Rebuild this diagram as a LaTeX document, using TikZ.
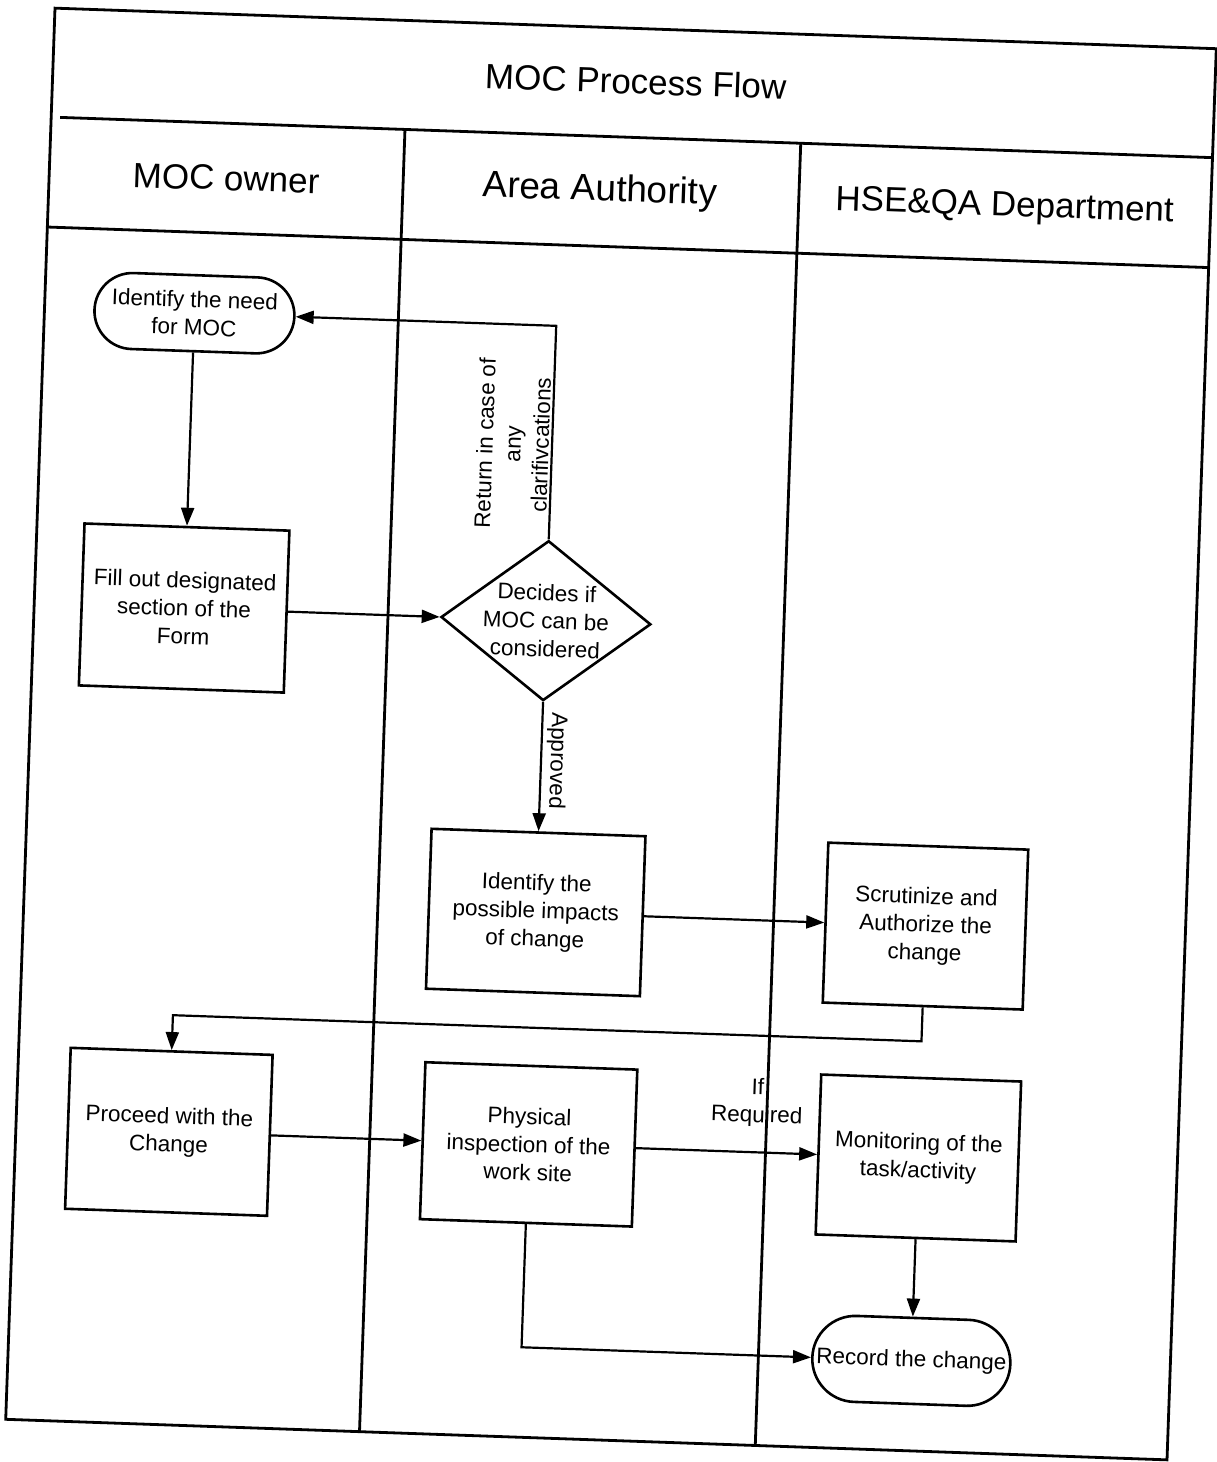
\documentclass[tikz,border=0pt]{standalone}
\usepackage{fontspec}
\setmainfont{Liberation Sans}
\usetikzlibrary{arrows.meta,shapes.geometric}
\newcommand\mybxfont{\fontsize{22.5bp}{28bp}\selectfont}
\newcommand\myhdfont{\fontsize{35bp}{42bp}\selectfont}
\begin{document}
\begin{tikzpicture}[x=1bp,y=-1bp,
  frameline/.style={line width=2.8bp},
  procbox/.style={draw, line width=2.6bp, align=center, inner sep=4bp, font=\mybxfont},
  termbox/.style={draw, line width=2.6bp, align=center, inner sep=4bp, font=\mybxfont},
  decbox/.style={draw, diamond, line width=2.6bp, inner sep=0pt},
  flow/.style={line width=2.2bp, -{Triangle[length=18bp,width=13bp]}},
  lbl/.style={font=\mybxfont, align=center},
  head/.style={font=\myhdfont}]
\useasboundingbox (0,0) rectangle (1216,1462);
\begin{scope}[rotate around={-2:(611,734)}, transform shape]
  % frame and swimlanes
  \draw[frameline] (30,28) rectangle (1192,1440);
  \draw[frameline] (39,137) -- (1192,137);
  \draw[frameline] (30,247) -- (1192,247);
  \draw[frameline] (384,137) -- (384,1440);
  \draw[frameline] (780,137) -- (780,1440);
  \node[head] (title) at (613,81) {MOC Process Flow};
  \node[head] (laneA) at (207,192) {MOC owner};
  \node[head, font=\fontsize{37bp}{42bp}\selectfont] (laneB) at (581,192) {Area Authority};
  \node[head] (laneC) at (986,194) {HSE\&QA Department};
  % nodes
  \node[termbox, minimum width=200bp, minimum height=76bp, rounded corners=38bp] (need) at (180,328) {Identify the need\\for MOC};
  \node[procbox, minimum width=205bp, minimum height=162bp] (fill) at (180,623) {Fill out designated\\section of the\\Form};
  \node[decbox, minimum width=210bp, minimum height=160bp,
        label={[lbl]center:Decides if\\MOC can be\\considered}] (dec) at (542,623) {};
  \node[procbox, minimum width=214bp, minimum height=160bp] (imp) at (542,915) {Identify the\\possible impacts\\of change};
  \node[procbox, minimum width=200bp, minimum height=160bp] (scr) at (932,915) {Scrutinize and\\Authorize the\\change};
  \node[procbox, minimum width=202bp, minimum height=161bp] (pro) at (183,1147) {Proceed with the\\Change};
  \node[procbox, minimum width=212bp, minimum height=157bp] (phy) at (543,1147) {Physical\\inspection of the\\work site};
  \node[procbox, minimum width=200bp, minimum height=160bp] (mon) at (933,1147) {Monitoring of the\\task/activity};
  \node[termbox, minimum width=198bp, minimum height=86bp, rounded corners=43bp] (rec) at (933,1350) {Record the change};
  % connectors
  \draw[flow] (need) -- (fill);
  \draw[flow] (fill) -- (dec);
  \draw[flow] (dec.north) |- node[lbl, pos=0.22, rotate=90, anchor=south, inner sep=2bp] (retlbl) {Return in case of\\any\\clarifivcations} (need.east);
  \draw[flow] (dec.south) -- node[lbl, pos=0.45, rotate=-90, anchor=south, inner sep=4bp] (applbl) {Approved} (imp.north);
  \draw[flow] (imp) -- (scr);
  \draw[flow] (scr.south) -- ++(0,34) -| (pro.north);
  \draw[flow] (pro) -- (phy);
  \draw[flow] (phy) -- node[lbl, pos=0.66, anchor=south, yshift=21bp] (reqlbl) {If\\Required} (mon);
  \draw[flow] (mon) -- (rec);
  \draw[flow] (phy.south) |- (rec.west);
\end{scope}
\end{tikzpicture}
\end{document}
